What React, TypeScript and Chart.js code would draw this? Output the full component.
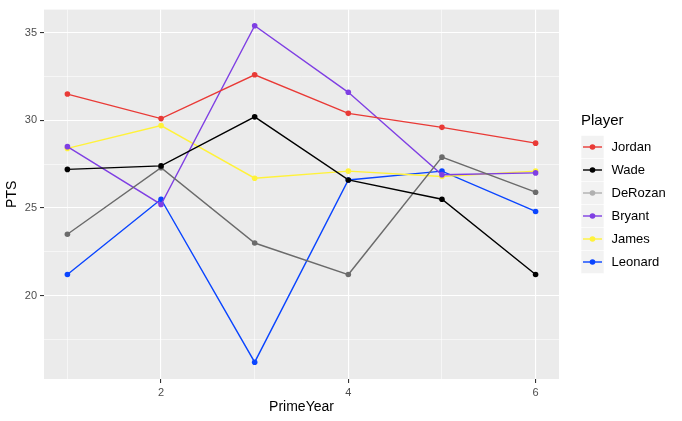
import React, { useEffect, useRef } from "react";
import { Chart, registerables } from "chart.js";

Chart.register(...registerables);

const years = [1, 2, 3, 4, 5, 6];
const players = ["Jordan", "Wade", "DeRozan", "Bryant", "James", "Leonard"];

const jordanPts = [31.5, 30.1, 32.6, 30.4, 29.6, 28.7];
const wadePts = [27.2, 27.4, 30.2, 26.6, 25.5, 21.2];
const derozanPts = [23.5, 27.3, 23.0, 21.2, 27.9, 25.9];
const bryantPts = [28.5, 25.2, 35.4, 31.6, 26.9, 27.0];
const jamesPts = [28.4, 29.7, 26.7, 27.1, 26.8, 27.1];
const leonardPts = [21.2, 25.5, 16.2, 26.6, 27.1, 24.8];

const lineColors = ["#E93A36", "#000000", "#6B6B6B", "#7F3FE3", "#FFF23A", "#0A45FF"];
const keyColors = ["#E93A36", "#000000", "#B0B0B0", "#7F3FE3", "#FFF23A", "#0A45FF"];

const xTicks = [1, 2, 3, 4, 5, 6];
const xLabelTicks = [2, 4, 6];
const yTicks = [17.5, 20, 22.5, 25, 27.5, 30, 32.5, 35];
const yLabelTicks = [20, 25, 30, 35];

const FONT = "'Liberation Sans', Arial, Helvetica, sans-serif";

// grey panel behind the plot, ggplot style
const panelBg = {
  id: "panelBg",
  beforeDraw(chart: Chart) {
    const { ctx, chartArea: a } = chart;
    ctx.save();
    ctx.fillStyle = "#EBEBEB";
    ctx.fillRect(a.left, a.top, a.right - a.left, a.bottom - a.top);
    ctx.restore();
  },
};

// legend on the right: title + grey key boxes with line and dot
const sideLegend = {
  id: "sideLegend",
  afterDraw(chart: Chart) {
    const { ctx } = chart;
    const left = 581;
    const keySize = 23;
    const top = 135.5;
    ctx.save();
    ctx.fillStyle = "#000000";
    ctx.font = `15px ${FONT}`;
    ctx.textAlign = "left";
    ctx.textBaseline = "middle";
    ctx.fillText("Player", left, 121);
    players.forEach((name, i) => {
      const y = top + i * keySize;
      ctx.fillStyle = "#F2F2F2";
      ctx.fillRect(left, y, keySize, keySize);
      ctx.strokeStyle = "#FFFFFF";
      ctx.lineWidth = 0.6;
      ctx.strokeRect(left, y, keySize, keySize);
      const cy = y + keySize / 2;
      ctx.strokeStyle = keyColors[i];
      ctx.lineWidth = 1.4;
      ctx.beginPath();
      ctx.moveTo(left + 2, cy);
      ctx.lineTo(left + keySize - 2, cy);
      ctx.stroke();
      ctx.fillStyle = keyColors[i];
      ctx.beginPath();
      ctx.arc(left + keySize / 2, cy, 2.8, 0, Math.PI * 2);
      ctx.fill();
      ctx.fillStyle = "#000000";
      ctx.font = `13px ${FONT}`;
      ctx.fillText(name, 611.5, cy + 0.5);
    });
    ctx.restore();
  },
};

export default function App() {
  const canvasRef = useRef<HTMLCanvasElement | null>(null);

  useEffect(() => {
    document.body.style.margin = "0";
    if (!canvasRef.current) return;

    const series = [jordanPts, wadePts, derozanPts, bryantPts, jamesPts, leonardPts];

    const chart = new Chart(canvasRef.current, {
      type: "line",
      data: {
        datasets: series.map((pts, i) => ({
          label: players[i],
          data: years.map((yr, j) => ({ x: yr, y: pts[j] })),
          borderColor: lineColors[i],
          backgroundColor: lineColors[i],
          pointBackgroundColor: lineColors[i],
          borderWidth: 1.4,
          pointRadius: 2.8,
          pointBorderWidth: 0,
          tension: 0,
        })),
      },
      options: {
        responsive: false,
        animation: false,
        layout: { padding: { top: 7, right: 123, left: 0, bottom: 0 } },
        plugins: {
          legend: { display: false },
          tooltip: { enabled: false },
        },
        scales: {
          x: {
            type: "linear",
            min: 0.75,
            max: 6.25,
            afterBuildTicks: (scale: any) => {
              scale.ticks = xTicks.map((v) => ({ value: v }));
            },
            afterFit: (scale: any) => {
              scale.height = 42;
            },
            ticks: {
              autoSkip: false,
              maxRotation: 0,
              padding: 3,
              color: "#4D4D4D",
              font: { family: FONT, size: 11 },
              callback: (v: any) => (xLabelTicks.includes(Number(v)) ? String(v) : ""),
            },
            grid: {
              color: "#FFFFFF",
              lineWidth: (c: any) => (xLabelTicks.includes(c.tick?.value) ? 1.1 : 0.55),
              tickColor: (c: any) => (xLabelTicks.includes(c.tick?.value) ? "#333333" : "rgba(0,0,0,0)"),
              tickLength: 4,
              drawTicks: true,
            },
            border: { display: false },
            title: {
              display: true,
              text: "PrimeYear",
              color: "#000000",
              font: { family: FONT, size: 14 },
              padding: { top: 0, bottom: 5.6 },
            },
          },
          y: {
            type: "linear",
            min: 15.24,
            max: 36.32,
            afterBuildTicks: (scale: any) => {
              scale.ticks = yTicks.map((v) => ({ value: v }));
            },
            afterFit: (scale: any) => {
              scale.width = 44;
            },
            ticks: {
              autoSkip: false,
              padding: 3,
              color: "#4D4D4D",
              font: { family: FONT, size: 11 },
              callback: (v: any) => (yLabelTicks.includes(Number(v)) ? String(v) : ""),
            },
            grid: {
              color: "#FFFFFF",
              lineWidth: (c: any) => (yLabelTicks.includes(c.tick?.value) ? 1.1 : 0.55),
              tickColor: (c: any) => (yLabelTicks.includes(c.tick?.value) ? "#333333" : "rgba(0,0,0,0)"),
              tickLength: 4,
              drawTicks: true,
            },
            border: { display: false },
            title: {
              display: true,
              text: "PTS",
              color: "#000000",
              font: { family: FONT, size: 14 },
              padding: { top: 3.6, bottom: 0 },
            },
          },
        },
      },
      plugins: [panelBg, sideLegend],
    });

    return () => chart.destroy();
  }, []);

  return <canvas ref={canvasRef} width={682} height={421} style={{ display: "block" }} />;
}
